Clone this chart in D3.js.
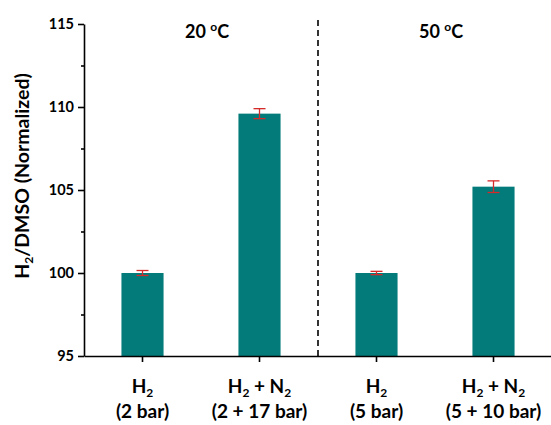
<!DOCTYPE html>
<html>
<head>
<style>
  body { margin: 0; background: #fff; }
  svg text { font-family: Lato, "Open Sans", sans-serif; fill: #000; }
</style>
<script src="https://d3js.org/d3.v7.min.js"></script>
</head>
<body>
<svg width="551" height="425"></svg>
<script>
// data
var categories = ["H2 (2 bar)", "H2+N2 (2+17 bar)", "H2 (5 bar)", "H2+N2 (5+10 bar)"];
var values = [100, 109.6, 100, 105.2];
var errors = [0.15, 0.3, 0.1, 0.35];
var labelTop = [["H", "2", ""], ["H", "2", " + N", "2"], ["H", "2", ""], ["H", "2", " + N", "2"]];
var labelBottom = ["(2 bar)", "(2 + 17 bar)", "(5 bar)", "(5 + 10 bar)"];
var yTicks = [95, 100, 105, 110, 115];
var yMinor = [97.5, 102.5, 107.5, 112.5];
var groups = [{ name: "20", at: [0, 1] }, { name: "50", at: [2, 3] }];

var svg = d3.select("svg");
var mLeft = 84, mRight = 552, mTop = 24, mBottom = 356;

var x = d3.scaleBand().domain(categories).range([mLeft, mRight])
  .paddingInner(0.64).paddingOuter(0.32);
var y = d3.scaleLinear().domain([95, 115]).range([mBottom, mTop]);

// bars
svg.selectAll(".bar").data(values).enter().append("rect")
  .attr("x", function(d, i) { return x(categories[i]); })
  .attr("y", function(d) { return y(d); })
  .attr("width", x.bandwidth())
  .attr("height", function(d) { return y(95) - y(d); })
  .attr("fill", "#037b7b");

// error bars
var eb = svg.selectAll(".err").data(values).enter().append("g")
  .attr("stroke", "#d42a2a").attr("stroke-width", 1.3);
eb.append("line")
  .attr("x1", function(d, i) { return x(categories[i]) + x.bandwidth() / 2; })
  .attr("x2", function(d, i) { return x(categories[i]) + x.bandwidth() / 2; })
  .attr("y1", function(d, i) { return y(d + errors[i]); })
  .attr("y2", function(d, i) { return y(d - errors[i]); });
[1, -1].forEach(function(s) {
  eb.append("line")
    .attr("x1", function(d, i) { return x(categories[i]) + x.bandwidth() / 2 - 6; })
    .attr("x2", function(d, i) { return x(categories[i]) + x.bandwidth() / 2 + 6; })
    .attr("y1", function(d, i) { return y(d + s * errors[i]); })
    .attr("y2", function(d, i) { return y(d + s * errors[i]); });
});

// y axis
var yAxis = svg.append("g").attr("transform", "translate(" + mLeft + ",0)")
  .call(d3.axisLeft(y).tickValues(yTicks).tickSize(6).tickSizeOuter(0).tickPadding(4));
yAxis.selectAll("text").style("font-size", "14.5px").style("font-weight", "bold")
  .attr("font-family", null);
svg.append("g").attr("transform", "translate(" + mLeft + ",0)")
  .call(d3.axisLeft(y).tickValues(yMinor).tickSize(3).tickFormat(""))
  .select(".domain").remove();

// x axis
var xAxis = svg.append("g").attr("transform", "translate(0," + mBottom + ")")
  .call(d3.axisBottom(x).tickSize(6).tickSizeOuter(0).tickFormat(""));
svg.selectAll(".domain, .tick line").attr("stroke", "#000").attr("stroke-width", 1.6);

// x labels
categories.forEach(function(c, i) {
  var cx = x(c) + x.bandwidth() / 2;
  var t = svg.append("text").attr("x", cx).attr("y", 393)
    .attr("text-anchor", "middle").style("font-size", "19px").style("font-weight", "bold");
  var parts = labelTop[i];
  t.append("tspan").text(parts[0]);
  t.append("tspan").text(parts[1]).style("font-size", "12px").attr("dy", 4);
  if (parts.length > 3) {
    t.append("tspan").text(parts[2]).attr("dy", -4);
    t.append("tspan").text(parts[3]).style("font-size", "12px").attr("dy", 4);
  }
  svg.append("text").attr("x", cx).attr("y", 418)
    .attr("text-anchor", "middle").style("font-size", "19px").style("font-weight", "bold")
    .text(labelBottom[i]);
});

// dashed separator
var sep = (x(categories[1]) + x.bandwidth() + x(categories[2])) / 2;
svg.append("line").attr("x1", sep).attr("x2", sep).attr("y1", 20).attr("y2", mBottom)
  .attr("stroke", "#000").attr("stroke-width", 1.6).attr("stroke-dasharray", "6,4");

// group titles
groups.forEach(function(g) {
  var a = x(categories[g.at[0]]), b = x(categories[g.at[1]]) + x.bandwidth();
  var t = svg.append("text").attr("x", (a + b) / 2 + 6).attr("y", 38)
    .attr("text-anchor", "middle").style("font-size", "18px").style("font-weight", "bold");
  t.append("tspan").text(g.name + " ");
  t.append("tspan").text("o").style("font-size", "12px").attr("dy", -7);
  t.append("tspan").text("C").attr("dy", 7);
});

// y title
var yt = svg.append("text").attr("transform", "translate(29,176) rotate(-90)")
  .attr("text-anchor", "middle").style("font-size", "19.5px").style("font-weight", "bold");
yt.append("tspan").text("H");
yt.append("tspan").text("2").style("font-size", "12px").attr("dy", 4);
yt.append("tspan").text("/DMSO (Normalized)").attr("dy", -4);
</script>
</body>
</html>
